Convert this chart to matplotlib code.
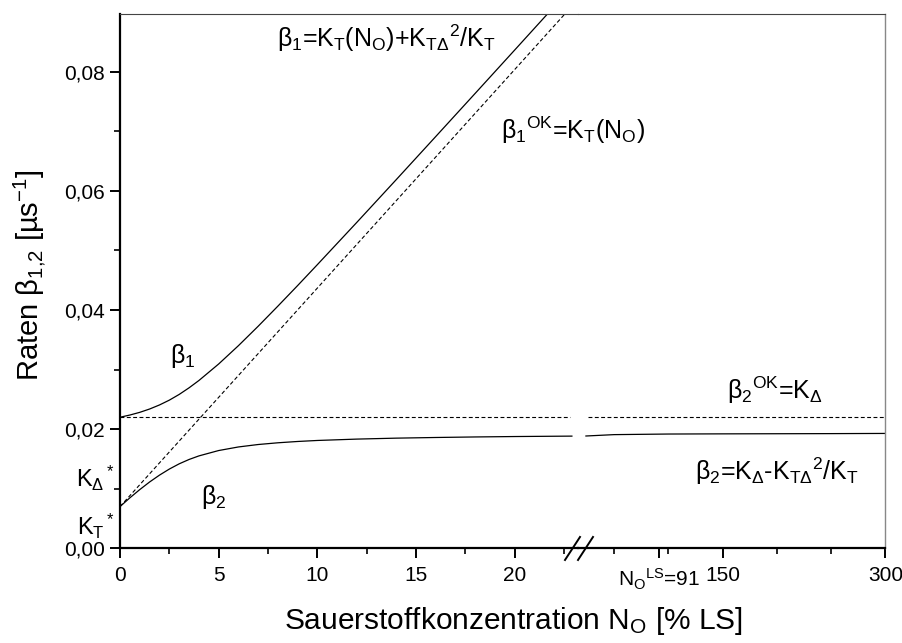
# %%
# libraries
import matplotlib
matplotlib.use('Agg')
import matplotlib.pyplot as plt
from matplotlib.lines import Line2D
from matplotlib.ticker import MultipleLocator, FuncFormatter
import matplotlib.transforms as mtransforms

plt.rcParams['font.family'] = ['Liberation Sans', 'DejaVu Sans']
plt.rcParams['mathtext.fontset'] = 'custom'
plt.rcParams['mathtext.rm'] = 'Liberation Sans'
plt.rcParams['mathtext.it'] = 'Liberation Sans'
plt.rcParams['mathtext.bf'] = 'Liberation Sans:bold'

# %%
# data
# left part of the broken axis (0 .. ~23 % LS)
no_left = [0, 0.5, 1, 1.5, 2, 2.5, 3, 3.5, 4, 5, 6, 7, 8, 9, 10,
           12, 14, 16, 18, 20, 22, 22.9]
beta1_left = [0.0220, 0.02237, 0.02282, 0.02338, 0.02406, 0.02487, 0.02583,
              0.02694, 0.02817, 0.03094, 0.03401, 0.03727, 0.04065, 0.04410,
              0.04761, 0.05471, 0.06189, 0.06912, 0.07637, 0.08364, 0.09093,
              0.09421]
beta2_left = [0.0070, 0.00847, 0.00985, 0.01113, 0.01228, 0.01330, 0.01418,
              0.01491, 0.01551, 0.01641, 0.01701, 0.01742, 0.01771, 0.01793,
              0.01810, 0.01833, 0.01849, 0.01860, 0.01869, 0.01876, 0.01881,
              0.01883]
kt_no = [0, 22.9]
kt_left = [0.0070, 0.0910]          # beta1^OK = K_T(N_O)
kdelta_no_left = [0, 22.8]
kdelta = 0.0220                     # beta2^OK = K_Delta

# right part of the broken axis (up to 300 % LS)
no_right = [24, 50, 100, 150, 200, 250, 300]
beta2_right = [0.01885, 0.01908, 0.01918, 0.01921, 0.01923, 0.01925, 0.01928]
kdelta_no_right = [26, 300]

# ticks
yticks_major = [0.00, 0.02, 0.04, 0.06, 0.08]
xticks_left = [0, 5, 10, 15, 20]
xticks_right = [91, 150, 300]
xticklabels_right = ['N$_O$$^{LS}$=91', '150', '300']
xminor_right = [50, 100, 200, 250]

# %%
# figure with two axes side by side (broken x axis)
fig = plt.figure(figsize=(9.03, 6.43), dpi=100)
axL = fig.add_axes([0.1329, 0.1473, 0.5072, 0.8310])
axR = fig.add_axes([0.6401, 0.1473, 0.3405, 0.8310], sharey=axL)
for ax in (axL, axR):
    ax.patch.set_visible(False)

solid = dict(color='black', lw=0.9)
dashed = dict(color='black', lw=0.8, dashes=(3.5, 2.2))

axL.plot(no_left, beta1_left, **solid)
axL.plot(no_left, beta2_left, **solid)
axL.plot(kt_no, kt_left, **dashed)
axL.plot(kdelta_no_left, [kdelta, kdelta], **dashed)

axR.plot(no_right, beta2_right, **solid)
axR.plot(kdelta_no_right, [kdelta, kdelta], **dashed)

axL.set_xlim(0, 23.21)
axR.set_xlim(16.7, 300)
axL.set_ylim(0, 0.0897)

# spines
for ax in (axL, axR):
    ax.spines['bottom'].set_linewidth(1.6)
    ax.spines['top'].set_linewidth(0.8)
    ax.spines['top'].set_color('#444444')
axL.spines['left'].set_linewidth(1.6)
axL.spines['right'].set_visible(False)
axR.spines['left'].set_visible(False)
axR.spines['right'].set_linewidth(1.0)
axR.spines['right'].set_color('#888888')

# ticks
axL.set_yticks(yticks_major)
axL.yaxis.set_minor_locator(MultipleLocator(0.01))
axL.yaxis.set_major_formatter(FuncFormatter(lambda v, p: f'{v:.2f}'.replace('.', ',')))
axL.set_xticks(xticks_left)
axL.xaxis.set_minor_locator(MultipleLocator(2.5))
axR.set_xticks(xticks_right)
axR.set_xticklabels(xticklabels_right)
axR.set_xticks(xminor_right, minor=True)

for ax in (axL, axR):
    ax.tick_params(which='major', direction='out', length=7, width=1.4, labelsize=15)
    ax.tick_params(which='minor', direction='out', length=4, width=1.2)
    ax.tick_params(axis='x', which='major', pad=6)
    ax.tick_params(axis='y', which='major', pad=4)
    ax.tick_params(top=False, right=False, which='both')
axR.tick_params(left=False, labelleft=False, which='both')

# axis labels
fig.text(0.033, 0.572, 'Raten β$_{1{,}2}$ [µs$^{-1}$]', fontsize=21,
         rotation=90, ha='center', va='center')
fig.text(0.569, 0.022, 'Sauerstoffkonzentration N$_O$ [% LS]', fontsize=21.5,
         ha='center', va='baseline')

# annotations
fs = 18
axL.text(7.96, 0.0856, 'β$_1$=K$_T$(N$_O$)+K$_{T\\Delta}$$^2$/K$_T$', fontsize=fs, va='center')
axL.text(19.3, 0.0702, 'β$_1$$^{OK}$=K$_T$(N$_O$)', fontsize=fs, va='center')
axL.text(2.55, 0.0323, 'β$_1$', fontsize=fs, va='center')
axL.text(4.1, 0.0086, 'β$_2$', fontsize=fs, va='center')
axR.text(154, 0.0266, 'β$_2$$^{OK}$=K$_\\Delta$', fontsize=fs, va='center')
axR.text(124.5, 0.01285, 'β$_2$=K$_\\Delta$-K$_{T\\Delta}$$^2$/K$_T$', fontsize=fs, va='center')

trans = mtransforms.blended_transform_factory(axL.transAxes, axL.transData)
axL.text(-0.011, 0.0118, 'K$_\\Delta$$^*$', fontsize=17, ha='right', va='center',
         transform=trans, clip_on=False)
axL.text(-0.011, 0.0037, 'K$_T$$^*$', fontsize=17, ha='right', va='center',
         transform=trans, clip_on=False)

# break marks on the x axis
fig.add_artist(Line2D([0.6257, 0.6423], [0.1291, 0.1649], color='black', lw=1.4))
fig.add_artist(Line2D([0.6401, 0.6567], [0.1291, 0.1649], color='black', lw=1.4))

plt.savefig('out.png', dpi=100)
